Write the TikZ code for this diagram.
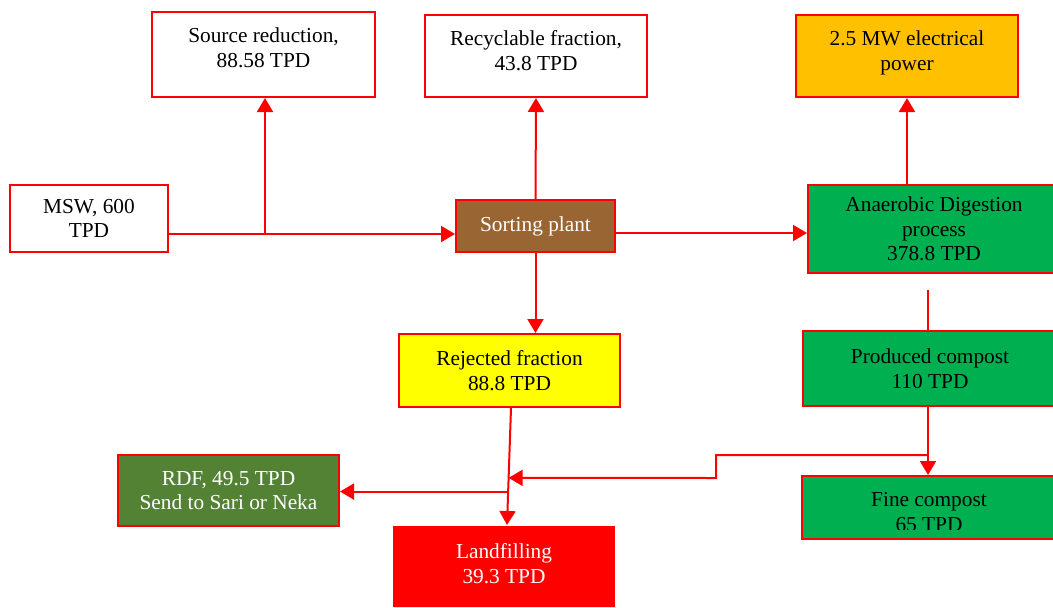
\documentclass[tikz,border=0pt]{standalone}
\usepackage{fontspec}
\setmainfont{Liberation Serif}
\usetikzlibrary{arrows.meta,calc}
\definecolor{bordred}{HTML}{FF0000}
\definecolor{sortbrown}{HTML}{996633}
\definecolor{adgreen}{HTML}{00B050}
\definecolor{rejyellow}{HTML}{FFFF00}
\definecolor{powerorange}{HTML}{FFC000}
\definecolor{rdfgreen}{HTML}{548235}
\begin{document}
\begin{tikzpicture}[x=0.75pt,y=-0.75pt,
  box/.style={draw=bordred, line width=1.5pt, align=center, inner sep=0pt,
    font=\fontsize{16}{18.4}\selectfont},
  txt/.style={align=center, inner sep=0pt, font=\fontsize{16}{18.4}\selectfont},
  conn/.style={draw=bordred, line width=1.5pt},
  arr/.style={conn, -{Triangle[length=10.5pt,width=12pt]}},
]
\clip (0,0) rectangle (1053,607);

% boxes
\node[box, fill=white, minimum width=167.25pt, minimum height=63.75pt, text depth=10.5pt]
  (src) at (263.5,54.5) {Source reduction,\\88.58 TPD};
\node[box, fill=white, minimum width=166.5pt, minimum height=61.5pt, text depth=8.25pt]
  (rec) at (536,56) {Recyclable fraction,\\43.8 TPD};
\node[box, fill=powerorange, minimum width=166.5pt, minimum height=61.5pt, text depth=8.25pt]
  (elec) at (907,56) {2.5 MW electrical\\power};
\node[box, fill=white, minimum width=118.5pt, minimum height=50.25pt]
  (msw) at (89,218.5) {MSW, 600\\TPD};
\node[box, fill=sortbrown, text=white, minimum width=119.25pt, minimum height=39pt]
  (sort) at (535.5,226) {Sorting plant};
\node[box, fill=adgreen, minimum width=189pt, minimum height=66pt]
  (ad) at (934,229) {Anaerobic Digestion\\process\\378.8 TPD};
\node[box, fill=adgreen, minimum width=190.5pt, minimum height=56.25pt]
  (prod) at (930,368.5) {Produced compost\\110 TPD};
\node[box, fill=rejyellow, minimum width=165.75pt, minimum height=54.75pt]
  (rej) at (509.5,370.5) {Rejected fraction\\88.8 TPD};
\node[box, fill=rdfgreen, text=white, minimum width=165.75pt, minimum height=53.25pt]
  (rdf) at (228.5,490.5) {RDF, 49.5 TPD\\Send to Sari or Neka};
\node[box, draw=none, fill=bordred, text=white, minimum width=166.5pt, minimum height=60.75pt, text depth=4.5pt]
  (land) at (504,566.5) {Landfilling\\39.3 TPD};
\node[box, fill=adgreen, minimum width=190.5pt, minimum height=47.25pt]
  (fine) at (929,507.5) {};
\begin{scope}
  \clip (802,476) rectangle (1056,529.5);
  \node[txt] (finet) at (929,512) {Fine compost\\65 TPD};
\end{scope}

% junction coordinates
\coordinate (hm) at (0,234);
\coordinate (hs) at (0,233);
\coordinate (j0) at (265,234);
\coordinate (rs) at ([xshift=1.125pt]rej.south);
\coordinate (ln) at ([xshift=2.25pt]land.north);
\coordinate (j1) at ($(rs)!0.714!(ln)$);
\coordinate (j3) at ($(rs)!0.597!(ln)$);
\coordinate (adgap) at (928,290);
\coordinate (j2) at (928,455);
\coordinate (k1) at (716,455);
\coordinate (k2) at (716,478);

% connectors
\draw[arr] (msw.east |- hm) -- (sort.west |- hm);
\draw[arr] (j0) -- (j0 |- src.south);
\draw[arr] (sort.north) -- (rec.south);
\draw[arr] (sort.east |- hs) -- (ad.west |- hs);
\draw[arr] (elec.south |- ad.north) -- (elec.south);
\draw[arr] (sort.south) -- (sort.south |- rej.north);
\draw[arr] (rs) -- (ln);
\draw[arr] (j1) -- (j1 -| rdf.east);
\draw[conn] (adgap) -- (adgap |- prod.north);
\draw[arr] (j2 |- prod.south) -- (j2 |- fine.north);
\draw[arr] (j2) -- (k1) -- (k2) -- (j3);
\end{tikzpicture}
\end{document}
